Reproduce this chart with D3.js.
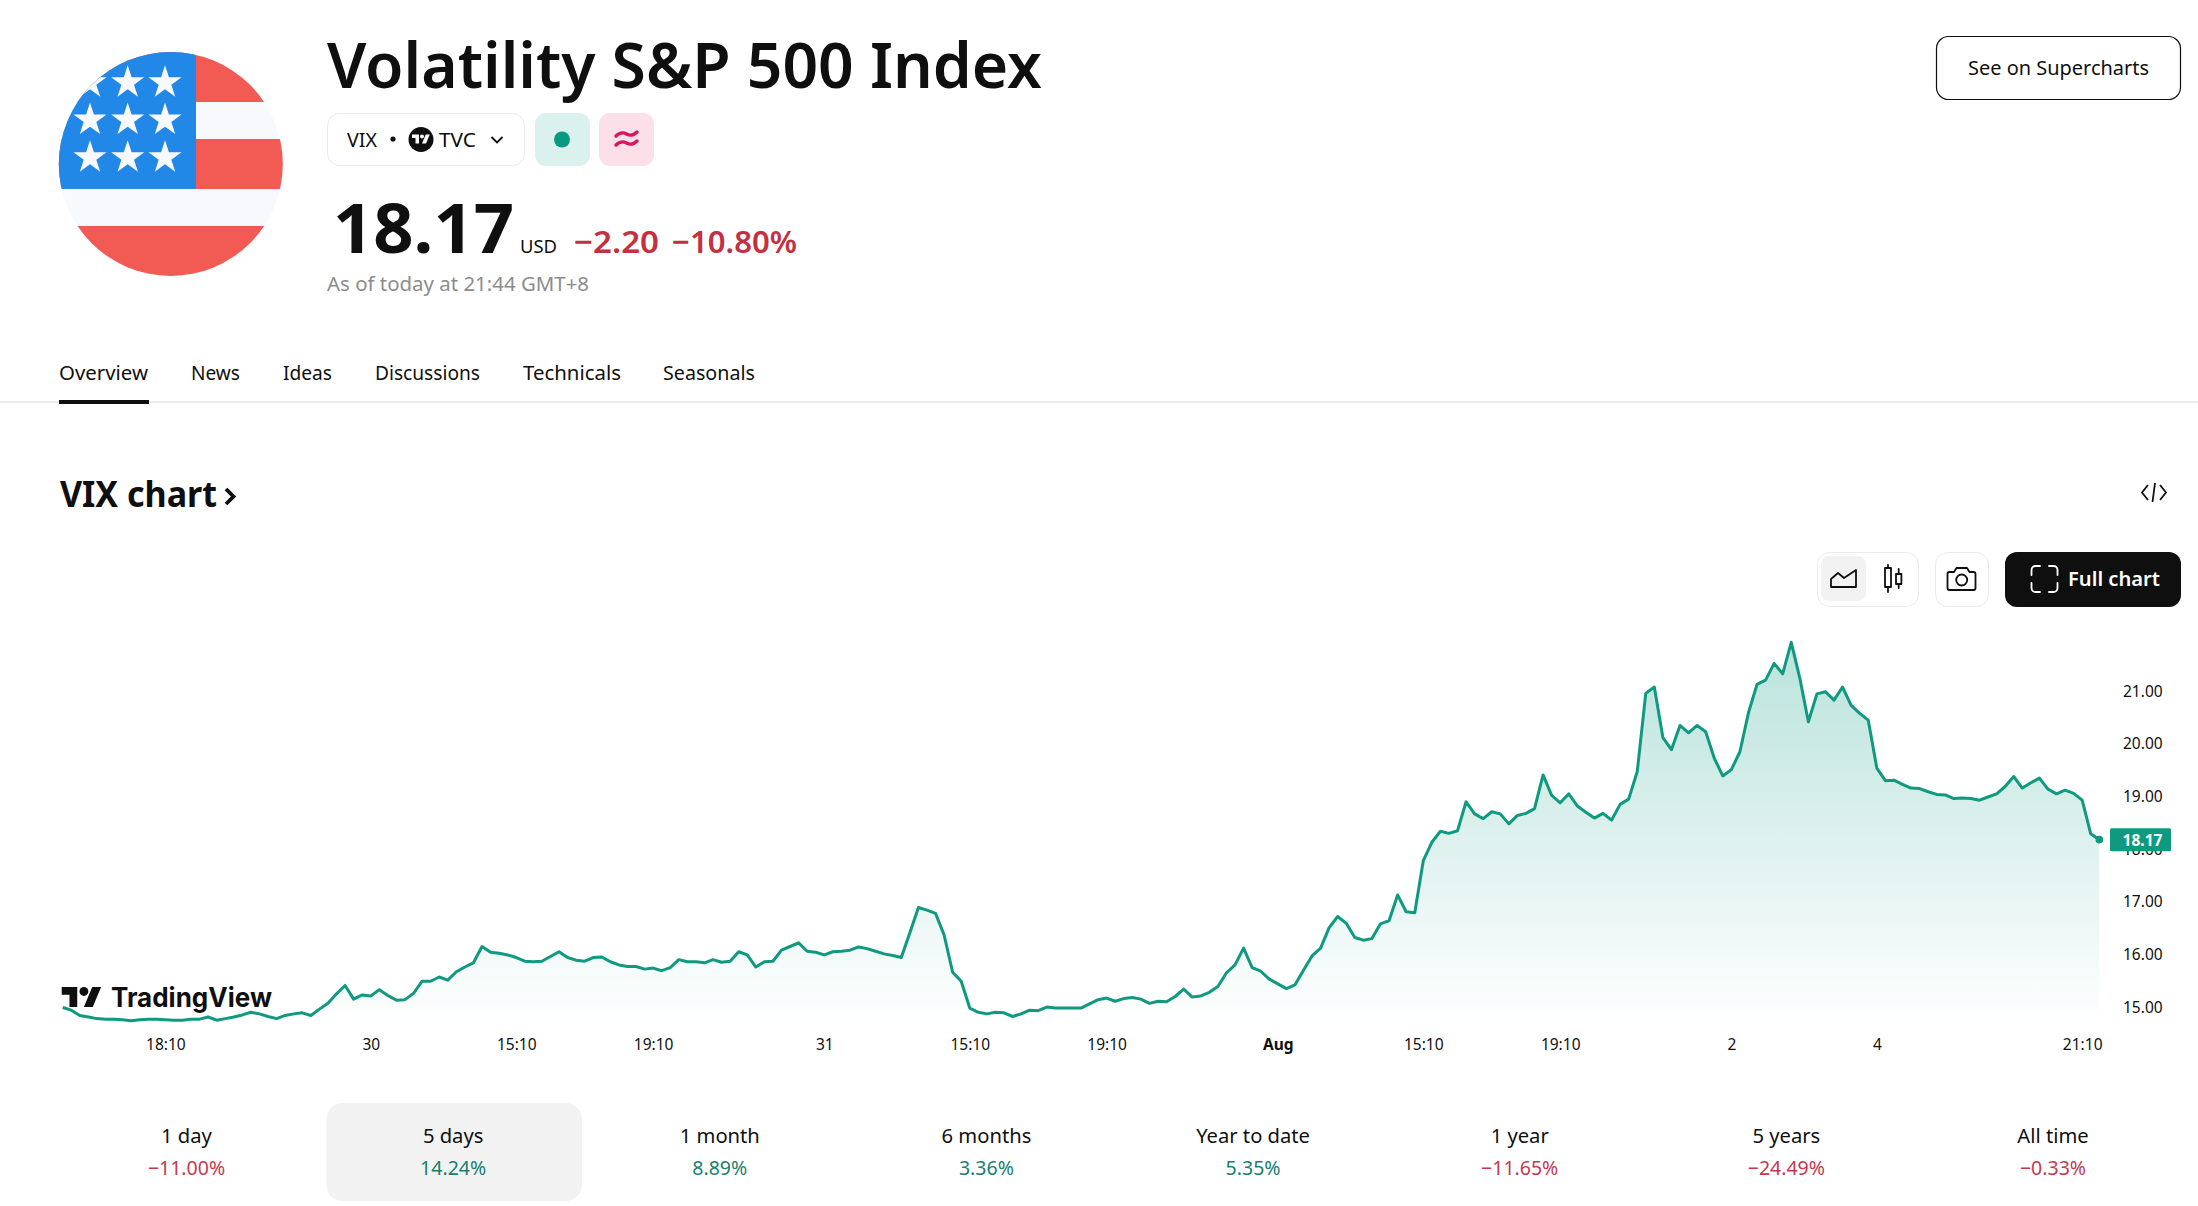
<!DOCTYPE html>
<html>
<head>
<meta charset="utf-8">
<title>VIX chart</title>
<script src="https://cdn.jsdelivr.net/npm/d3@7"></script>
<style>
  html, body { margin: 0; background: #fff; }
  svg { display: block; }
  text { font-family: "Noto Sans", sans-serif; fill: #0f0f0f; }
</style>
</head>
<body>
<svg id="viz" width="2198" height="1206"></svg>
<script>
// 15 minute closes
const closes = [
  14.98, 14.93, 14.83, 14.80, 14.77, 14.76, 14.76, 14.75, 14.73, 14.75,
  14.76, 14.76, 14.75, 14.74, 14.74, 14.76, 14.76, 14.80, 14.74, 14.77,
  14.80, 14.84, 14.89, 14.86, 14.81, 14.77, 14.83, 14.86, 14.88, 14.83,
  14.95, 15.06, 15.24, 15.40, 15.14, 15.22, 15.20, 15.32, 15.21, 15.12,
  15.13, 15.25, 15.48, 15.48, 15.56, 15.50, 15.66, 15.75, 15.83, 16.14,
  16.03, 16.01, 15.98, 15.93, 15.86, 15.85, 15.86, 15.95, 16.04, 15.93,
  15.88, 15.86, 15.93, 15.94, 15.85, 15.79, 15.76, 15.76, 15.71, 15.73,
  15.68, 15.74, 15.89, 15.85, 15.85, 15.83, 15.89, 15.84, 15.86, 16.04,
  15.98, 15.75, 15.85, 15.86, 16.07, 16.14, 16.21, 16.05, 16.03, 15.98,
  16.04, 16.05, 16.07, 16.13, 16.10, 16.05, 16.00, 15.97, 15.93, 16.40,
  16.88, 16.83, 16.77, 16.36, 15.65, 15.48, 14.97, 14.89, 14.86, 14.89,
  14.88, 14.81, 14.86, 14.93, 14.92, 14.99, 14.97, 14.97, 14.97, 14.97,
  15.05, 15.13, 15.16, 15.10, 15.15, 15.17, 15.14, 15.06, 15.10, 15.09,
  15.19, 15.33, 15.18, 15.20, 15.27, 15.38, 15.64, 15.79, 16.11, 15.74,
  15.67, 15.52, 15.43, 15.34, 15.41, 15.69, 15.96, 16.11, 16.50, 16.71,
  16.58, 16.31, 16.26, 16.29, 16.57, 16.63, 17.12, 16.80, 16.78, 17.77,
  18.12, 18.33, 18.29, 18.34, 18.89, 18.66, 18.57, 18.70, 18.66, 18.47,
  18.63, 18.67, 18.76, 19.40, 19.01, 18.87, 19.04, 18.81, 18.69, 18.58,
  18.67, 18.54, 18.84, 18.94, 19.46, 20.95, 21.07, 20.11, 19.88, 20.34,
  20.20, 20.34, 20.22, 19.72, 19.38, 19.50, 19.84, 20.58, 21.12, 21.20,
  21.52, 21.32, 21.92, 21.24, 20.41, 20.94, 20.98, 20.82, 21.07, 20.72,
  20.57, 20.44, 19.53, 19.29, 19.30, 19.22, 19.15, 19.14, 19.08, 19.03,
  19.02, 18.95, 18.96, 18.95, 18.92, 18.98, 19.04, 19.18, 19.37, 19.15,
  19.25, 19.34, 19.13, 19.04, 19.11, 19.05, 18.92, 18.28, 18.17
];

const timeTickBars = [12, 36, 53, 69, 89, 106, 122, 142, 159, 175, 195, 212, 236];
const timeTickLabels = ["18:10", "30", "15:10", "19:10", "31", "15:10", "19:10", "Aug", "15:10", "19:10", "2", "4", "21:10"];
const priceTicks = [15, 16, 17, 18, 19, 20, 21];

const tabs = ["Overview", "News", "Ideas", "Discussions", "Technicals", "Seasonals"];
const tabLeft = [59, 191, 283, 375, 523, 663];
const tabWidth = [89, 49, 49, 105, 98, 92];

const periods = ["1 day", "5 days", "1 month", "6 months", "Year to date", "1 year", "5 years", "All time"];
const periodChanges = [-11.00, 14.24, 8.89, 3.36, 5.35, -11.65, -24.49, -0.33];

const green = "#089981", ink = "#0f0f0f", red = "#c42f41";
const svg = d3.select("#viz");
const defs = svg.append("defs");

function txt(x, y, s, size, opts = {}) {
  const t = svg.append("text")
    .attr("x", x).attr("y", y)
    .attr("font-size", size)
    .attr("font-weight", opts.weight || 400)
    .attr("text-anchor", opts.anchor || "start")
    .style("fill", opts.fill || ink)
    .text(s);
  if (opts.width) t.attr("textLength", opts.width).attr("lengthAdjust", "spacingAndGlyphs");
  return t;
}

function tvLogo(x, y, k, color) {
  const g = svg.append("g").attr("transform", `translate(${x},${y}) scale(${k})`).attr("fill", color);
  g.append("path").attr("d", "M14 18H7V7H0V0h14v18zM28 18h-8L27.5 0h8L28 18z");
  g.append("circle").attr("cx", 20).attr("cy", 4).attr("r", 4);
}

// flag
defs.append("clipPath").attr("id", "flagClip")
  .append("circle").attr("cx", 170.8).attr("cy", 164).attr("r", 112);
const flag = svg.append("g").attr("clip-path", "url(#flagClip)");
const stripe = (x, y, w, h, c) => flag.append("rect").attr("x", x).attr("y", y).attr("width", w).attr("height", h).attr("fill", c);
stripe(50, 50, 240, 52, "#f15b53");
stripe(50, 102, 240, 37, "#f8f9fd");
stripe(50, 139, 240, 50, "#f15b53");
stripe(50, 189, 240, 37, "#f8f9fd");
stripe(50, 226, 240, 52, "#f15b53");
stripe(50, 50, 146, 139, "#2188e8");
[81.7, 119, 156.7].forEach(y => [90, 127.7, 165].forEach(x => {
  flag.append("path")
    .attr("d", d3.symbol(d3.symbolStar, 340))
    .attr("transform", `translate(${x},${y + 1})`)
    .attr("fill", "#f8f9fd");
}));

// title block
txt(327, 88, "Volatility S&P 500 Index", 64, { weight: 600, width: 715 });
svg.append("rect").attr("x", 327.5).attr("y", 113.5).attr("width", 197).attr("height", 52).attr("rx", 12)
  .attr("fill", "#fff").attr("stroke", "#ebebeb");
txt(347, 146.5, "VIX", 19.5, { width: 30 });
svg.append("circle").attr("cx", 393).attr("cy", 139).attr("r", 2.6).attr("fill", ink);
svg.append("circle").attr("cx", 421).attr("cy", 139.5).attr("r", 12.5).attr("fill", ink);
tvLogo(412, 134.5, 0.5, "#fff");
txt(439, 146.5, "TVC", 19.5, { width: 37 });
svg.append("path").attr("d", "M491.5 137 l5.5 5.5 l5.5 -5.5").attr("fill", "none").attr("stroke", ink).attr("stroke-width", 1.8);
svg.append("rect").attr("x", 535).attr("y", 113).attr("width", 55).attr("height", 53).attr("rx", 11).attr("fill", "#daf1ee");
svg.append("circle").attr("cx", 562).attr("cy", 139.5).attr("r", 8).attr("fill", green);
svg.append("rect").attr("x", 599).attr("y", 113).attr("width", 55).attr("height", 53).attr("rx", 11).attr("fill", "#fcdfe9");
svg.append("path").attr("d", "M616 136 q5 -5 10.5 -2 t10.5 -2 M616 145 q5 -5 10.5 -2 t10.5 -2")
  .attr("fill", "none").attr("stroke", "#d6185f").attr("stroke-width", 3.4).attr("stroke-linecap", "round");

txt(333, 253, "18.17", 68, { weight: 700, width: 181 });
txt(520, 252.5, "USD", 18, { width: 37 });
txt(574, 252.5, "−2.20", 31, { weight: 600, fill: red, width: 85 });
txt(672, 252.5, "−10.80%", 31, { weight: 600, fill: red, width: 125 });
txt(327, 291, "As of today at 21:44 GMT+8", 19, { fill: "#8c8c8c", width: 262 });

// see on supercharts
svg.append("rect").attr("x", 1936.5).attr("y", 36.5).attr("width", 244).attr("height", 63).attr("rx", 12)
  .attr("fill", "#fff").attr("stroke", ink).attr("stroke-width", 1.2);
txt(1968, 75, "See on Supercharts", 20, { width: 181 });

// tabs
tabs.forEach((t, i) => txt(tabLeft[i], 380, t, 19.5, { width: tabWidth[i] }));
svg.append("rect").attr("x", 0).attr("y", 401).attr("width", 2198).attr("height", 2).attr("fill", "#ebebeb");
svg.append("rect").attr("x", 59).attr("y", 400).attr("width", 90).attr("height", 4).attr("fill", ink);

// section head
txt(60, 506.5, "VIX chart", 36, { weight: 700, width: 157 });
svg.append("path").attr("d", "M226 489 l7.5 7.5 l-7.5 7.5").attr("fill", "none").attr("stroke", ink).attr("stroke-width", 3.8);
svg.append("path").attr("d", "M2148 485 l-6 7.5 l6 7.5 M2155 483 l-2.5 19 M2160 485 l6 7.5 l-6 7.5")
  .attr("fill", "none").attr("stroke", ink).attr("stroke-width", 1.8);

// toolbar
const box = (x, y, w, h, r, f, s) => svg.append("rect").attr("x", x).attr("y", y).attr("width", w).attr("height", h).attr("rx", r).attr("fill", f).attr("stroke", s || "none");
box(1817.5, 552.5, 101, 54, 12, "#fff", "#ebebeb");
box(1821, 556, 45, 45, 8, "#f2f2f2");
box(1935.5, 552.5, 53, 54, 12, "#fff", "#ebebeb");
box(2005, 552, 176, 55, 12, ink);
const icon = (d, c) => svg.append("path").attr("d", d).attr("fill", "none").attr("stroke", c || ink).attr("stroke-width", 1.8).attr("stroke-linejoin", "round").attr("stroke-linecap", "round");
icon("M1831 587 V579 L1838 573 L1844 578 L1856 570 V587 Z");
icon("M1888 565 V568 M1888 587 V592 M1885 568 H1891 V587 H1885 Z M1898.7 569 V574 M1898.7 584 V588 M1896 574 H1901.4 V584 H1896 Z");
icon("M1950 572 h4 l2.5 -4 h10.5 l2.5 4 h4 a2 2 0 0 1 2 2 v14 a2 2 0 0 1 -2 2 h-24 a2 2 0 0 1 -2 -2 v-14 a2 2 0 0 1 2 -2 Z");
svg.append("circle").attr("cx", 1961.7).attr("cy", 580).attr("r", 5.5).attr("fill", "none").attr("stroke", ink).attr("stroke-width", 1.8);
icon("M2031.5 575 V570 a4 4 0 0 1 4 -4 h4.5 M2049 566 h4.5 a4 4 0 0 1 4 4 v5 M2057.5 583 v5 a4 4 0 0 1 -4 4 h-4.5 M2040 592 h-4.5 a4 4 0 0 1 -4 -4 v-5", "#fff");
txt(2068, 586, "Full chart", 20, { weight: 600, fill: "#fff", width: 92 });

// chart
const x = d3.scaleLinear().domain([0, closes.length - 1]).range([62.7, 2099.3]);
const y = d3.scaleLinear().domain([15, 21]).range([1006.5, 690.7]);
const last = closes[closes.length - 1];

const grad = defs.append("linearGradient").attr("id", "areaFill")
  .attr("gradientUnits", "userSpaceOnUse").attr("x1", 0).attr("x2", 0).attr("y1", y(21.92)).attr("y2", 1024);
grad.append("stop").attr("offset", 0).attr("stop-color", green).attr("stop-opacity", 0.28);
grad.append("stop").attr("offset", 1).attr("stop-color", green).attr("stop-opacity", 0);

const area = d3.area().x((d, i) => x(i)).y0(1024).y1(d => y(d));
const line = d3.line().x((d, i) => x(i)).y(d => y(d));

svg.append("path").datum(closes).attr("d", area).attr("fill", "url(#areaFill)");
tvLogo(61.7, 987, 1.11, ink);
svg.append("text").attr("x", 111).attr("y", 1007).attr("font-size", 27).attr("font-weight", 700)
  .attr("textLength", 161).attr("lengthAdjust", "spacingAndGlyphs").style("font-family", "Inter").text("TradingView");
svg.append("path").datum(closes).attr("d", line).attr("fill", "none")
  .attr("stroke", "#0f9a80").attr("stroke-width", 3).attr("stroke-linejoin", "round");

const xAxis = svg.append("g").attr("transform", "translate(0,1034.3)")
  .call(d3.axisBottom(x).tickValues(timeTickBars).tickSize(0).tickPadding(0)
    .tickFormat((d, i) => timeTickLabels[i]));
xAxis.select(".domain").remove();
xAxis.selectAll("text").attr("font-size", 15.5).style("font-family", "Noto Sans")
  .style("font-weight", (d, i) => timeTickLabels[i] === "Aug" ? 700 : 400).attr("dy", "1em");

const yAxis = svg.append("g").attr("transform", "translate(2123,0.6)")
  .call(d3.axisRight(y).tickValues(priceTicks).tickSize(0).tickPadding(0).tickFormat(d3.format(".2f")));
yAxis.select(".domain").remove();
yAxis.selectAll("text").attr("font-size", 15.5).style("font-family", "Noto Sans");

svg.append("circle").attr("cx", x(closes.length - 1)).attr("cy", y(last)).attr("r", 3.8).attr("fill", "#0f9a80");
svg.append("rect").attr("x", 2110).attr("y", y(last) - 11.5).attr("width", 61).attr("height", 23).attr("rx", 1.5).attr("fill", "#0f9a80");
txt(2142.5, y(last) + 6, d3.format(".2f")(last), 15.5, { weight: 700, anchor: "middle", fill: "#fff" });

// period strip
const period = d3.scalePoint().domain(periods).range([186.5, 2053]);
box(326.5, 1103, 255.5, 98, 16, "#f2f2f2");
const fmtChange = v => (v < 0 ? "−" : "") + Math.abs(v).toFixed(2) + "%";
periods.forEach((p, i) => {
  txt(period(p), 1143, p, 20.2, { anchor: "middle" });
  txt(period(p), 1175, fmtChange(periodChanges[i]), 19.5, { anchor: "middle", fill: periodChanges[i] < 0 ? "#c23a4f" : "#17806f" });
});
</script>
</body>
</html>
